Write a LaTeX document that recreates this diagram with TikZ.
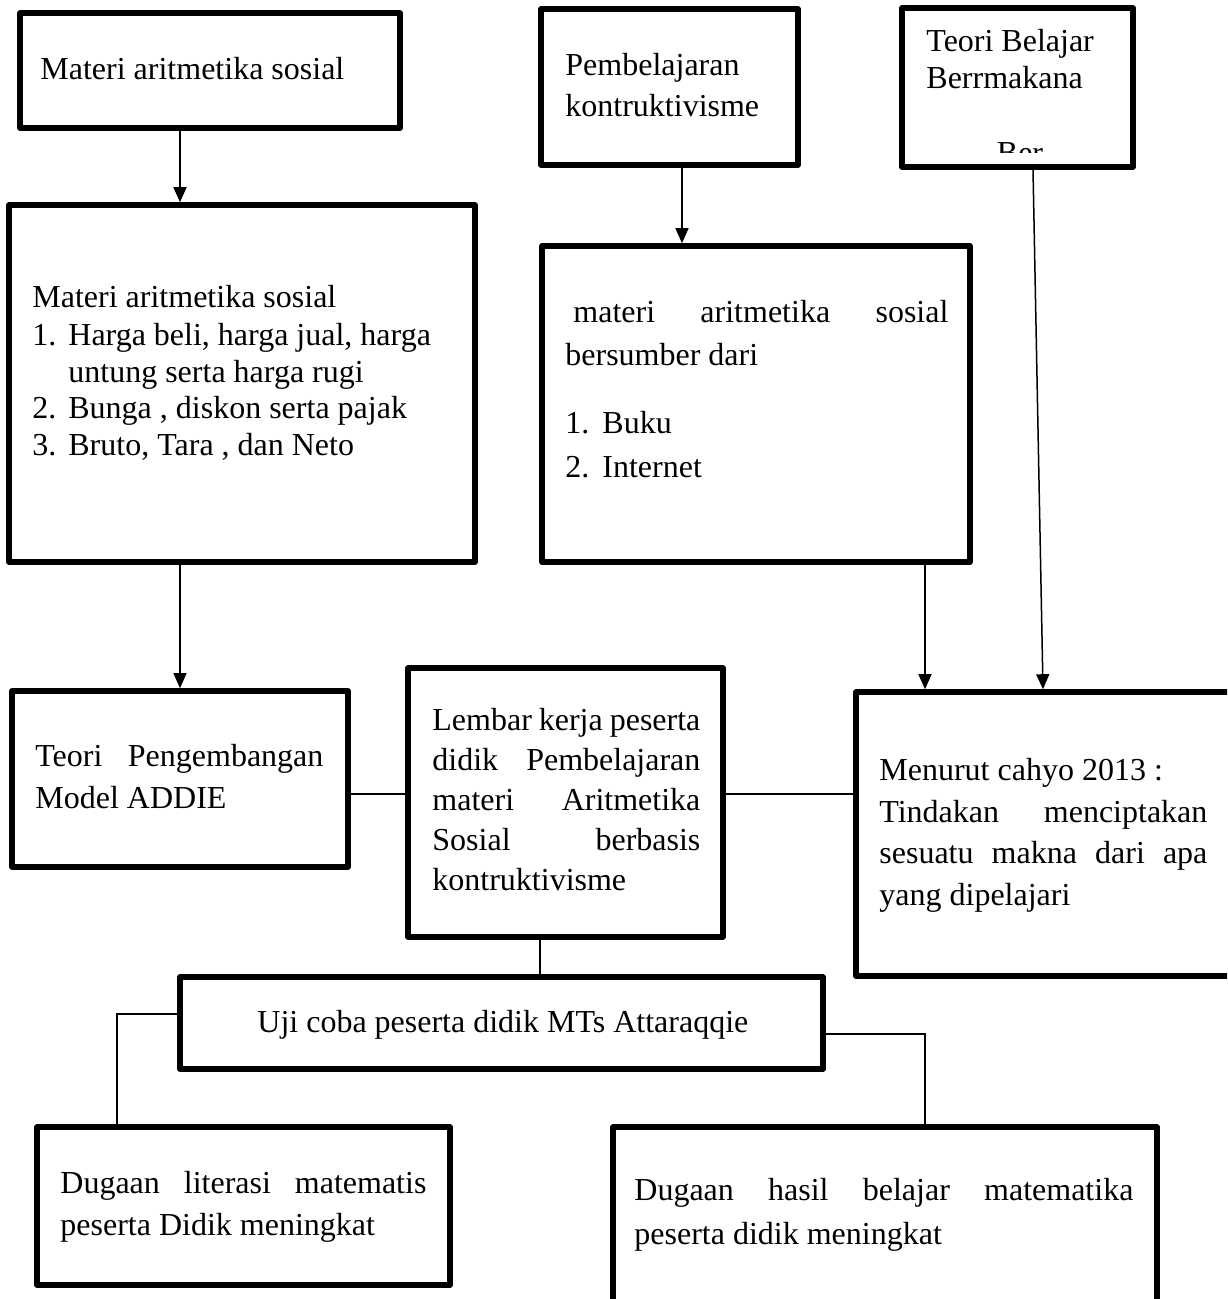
\documentclass[tikz,border=0pt]{standalone}
\usepackage{fontspec}
\setmainfont{Liberation Serif}
\usetikzlibrary{arrows.meta,fit}
\newcommand{\jl}[2]{\makebox[#1][s]{#2}}
\tikzset{
  boxframe/.style={draw=black, line width=2.8pt, line join=round, inner sep=0pt, fill=white},
  txt/.style={anchor=base west, inner sep=0pt, font=\fontsize{16}{19}\selectfont},
  conn/.style={draw=black, line width=0.75pt},
  arr/.style={conn, -{Triangle[length=7.5pt,width=6.5pt]}}
}
\begin{document}
\begin{tikzpicture}[x=0.5pt,y=-0.5pt]
\useasboundingbox (0,0) rectangle (1227,1299);
\fill[white] (0,0) rectangle (1227,1299);
\clip (0,0) rectangle (1227,1299);

% helper coordinates for connector columns/rows
\coordinate (colA) at (180,0);
\coordinate (colB) at (682,0);
\coordinate (colC) at (925,0);
\coordinate (colD1) at (1033,0);
\coordinate (colD2) at (1043,0);
\coordinate (colE) at (540,0);
\coordinate (colF) at (117,0);
\coordinate (rowA) at (0,794);
\coordinate (rowB) at (0,1014);
\coordinate (rowC) at (0,1034);

% boxes
\node[boxframe, fit={(20,13) (400,128)}] (b1) {};
\node[boxframe, fit={(9,205) (475,562)}] (b2) {};
\node[boxframe, fit={(541,9) (798,165)}] (b3) {};
\node[boxframe, fit={(902,8) (1133,167)}] (b4) {};
\node[boxframe, fit={(542,246) (970,562)}] (b5) {};
\node[boxframe, fit={(856,692) (1262,976)}] (b6) {};
\node[boxframe, fit={(12,691) (348,867)}] (addie) {};
\node[boxframe, fit={(408,668) (723,937)}] (lembar) {};
\node[boxframe, fit={(180,977) (823,1069)}] (uji) {};
\node[boxframe, fit={(37,1127) (450,1285)}] (dug1) {};
\node[boxframe, fit={(613,1127) (1157,1340)}] (dug2) {};

% texts
\node[txt] (t1) at (40,80) {Materi aritmetika sosial};

\node[txt] (t2a) at (32,307) {Materi aritmetika sosial};
\node[txt] (t2b) at (32,345) {1.};
\node[txt] (t2c) at (68,345) {Harga beli, harga jual, harga};
\node[txt] (t2d) at (68,382) {untung serta harga rugi};
\node[txt] (t2e) at (32,418) {2.};
\node[txt] (t2f) at (68,418) {Bunga , diskon serta pajak};
\node[txt] (t2g) at (32,455) {3.};
\node[txt] (t2h) at (68,455) {Bruto, Tara , dan Neto};

\node[txt] (t3a) at (565,76) {Pembelajaran};
\node[txt] (t3b) at (565,117) {kontruktivisme};

\node[txt] (t4a) at (926,52) {Teori Belajar};
\node[txt] (t4b) at (926,89) {Berrmakana};
\begin{scope}
  \clip (902,100) rectangle (1133,153);
  \node[txt, anchor=base] (t4c) at (1020,164) {Ber};
\end{scope}

\node[txt] (t5a) at (573,322) {\jl{187.5pt}{materi aritmetika sosial}};
\node[txt] (t5b) at (565,365) {bersumber dari};
\node[txt] (t5c) at (565,433) {1.};
\node[txt] (t5d) at (602,433) {Buku};
\node[txt] (t5e) at (565,477) {2.};
\node[txt] (t5f) at (602,477) {Internet};

\node[txt] (t6a) at (879,780) {Menurut cahyo 2013 :};
\node[txt] (t6b) at (879,822) {\jl{164pt}{Tindakan menciptakan}};
\node[txt] (t6c) at (879,863) {\jl{164pt}{sesuatu makna dari apa}};
\node[txt] (t6d) at (879,905) {yang dipelajari};

\node[txt] (t7a) at (35,766) {\jl{144pt}{Teori Pengembangan}};
\node[txt] (t7b) at (35,808) {Model ADDIE};

\node[txt] (t8a) at (432,730) {\jl{134pt}{Lembar kerja peserta}};
\node[txt] (t8b) at (432,770) {\jl{134pt}{didik Pembelajaran}};
\node[txt] (t8c) at (432,810) {\jl{134pt}{materi Aritmetika}};
\node[txt] (t8d) at (432,850) {\jl{134pt}{Sosial berbasis}};
\node[txt] (t8e) at (432,890) {kontruktivisme};

\node[txt] (t9) at (257,1032) {Uji coba peserta didik MTs Attaraqqie};

\node[txt] (t10a) at (60,1193) {\jl{183pt}{Dugaan literasi matematis}};
\node[txt] (t10b) at (60,1235) {peserta Didik meningkat};

\node[txt] (t11a) at (634,1200) {\jl{249.5pt}{Dugaan hasil belajar matematika}};
\node[txt] (t11b) at (634,1244) {peserta didik meningkat};

% connectors
\draw[arr] (b1.south -| colA) -- (b2.north -| colA);
\draw[arr] (b2.south -| colA) -- (addie.north -| colA);
\draw[arr] (b3.south -| colB) -- (b5.north -| colB);
\draw[arr] (b5.south -| colC) -- (b6.north -| colC);
\draw[arr] (b4.south -| colD1) -- (b6.north -| colD2);
\draw[conn] (addie.east |- rowA) -- (lembar.west |- rowA);
\draw[conn] (lembar.east |- rowA) -- (b6.west |- rowA);
\draw[conn] (lembar.south -| colE) -- (uji.north -| colE);
\draw[conn] (uji.west |- rowB) -| (dug1.north -| colF);
\draw[conn] (uji.east |- rowC) -| (dug2.north -| colC);
\end{tikzpicture}
\end{document}
